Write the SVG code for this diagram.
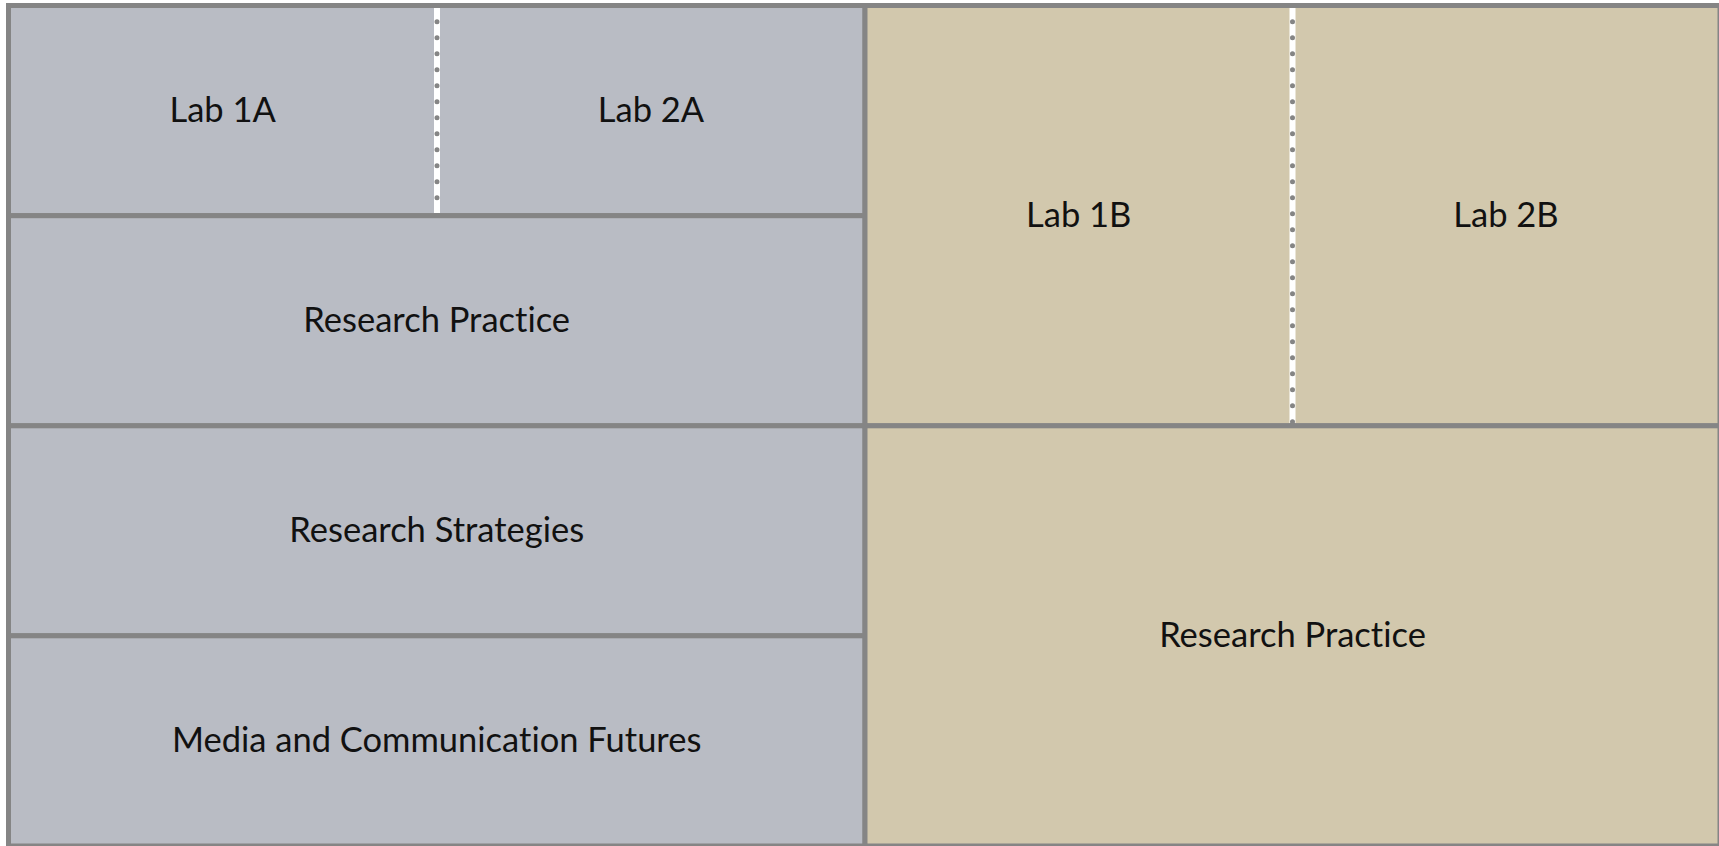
<svg xmlns="http://www.w3.org/2000/svg" width="1719" height="846" viewBox="0 0 1719 846">
<style>
.l{fill:#b9bcc4;stroke:#858585;stroke-width:5}
.r{fill:#d2c8ad;stroke:#858585;stroke-width:5}
.t{font-family:Lato,"Open Sans",sans-serif;font-size:34.5px;fill:#111;text-anchor:middle;font-variant-ligatures:none}
.sep{stroke:#fff;stroke-width:6}
.dot{stroke:#858585;stroke-width:5;stroke-linecap:round;stroke-dasharray:0 16}
</style>
<rect width="1719" height="846" fill="#ffffff"/>
<g id="lab1a"><rect class="l" x="8.5" y="5.5" width="428.5" height="210.2"/><text class="t" x="222.7" y="121.6">Lab 1A</text></g>
<g id="lab2a"><rect class="l" x="437" y="5.5" width="428" height="210.2"/><text class="t" x="651" y="121.6">Lab 2A</text></g>
<g id="rp-left"><rect class="l" x="8.5" y="215.7" width="856.5" height="210.1"/><text class="t" x="436.7" y="331.7">Research Practice</text></g>
<g id="rs"><rect class="l" x="8.5" y="425.8" width="856.5" height="210"/><text class="t" x="436.7" y="541.8">Research Strategies</text></g>
<g id="mcf"><rect class="l" x="8.5" y="635.8" width="856.5" height="210.2"/><text class="t" x="436.7" y="751.8">Media and Communication Futures</text></g>
<g id="lab1b"><rect class="r" x="865" y="5.5" width="427.5" height="420.3"/><text class="t" x="1078.7" y="226.7">Lab 1B</text></g>
<g id="lab2b"><rect class="r" x="1292.5" y="5.5" width="427.5" height="420.3"/><text class="t" x="1506" y="226.7">Lab 2B</text></g>
<g id="rp-right"><rect class="r" x="865" y="425.8" width="855" height="420.2"/><text class="t" x="1292.5" y="646.8">Research Practice</text></g>
<g id="connectors">
<line class="sep" x1="437" y1="8" x2="437" y2="213"/>
<line class="dot" x1="437" y1="21.7" x2="437" y2="213"/>
<line class="sep" x1="1292.5" y1="8" x2="1292.5" y2="423"/>
<line class="dot" x1="1292.5" y1="21.7" x2="1292.5" y2="423"/>
</g>
</svg>
